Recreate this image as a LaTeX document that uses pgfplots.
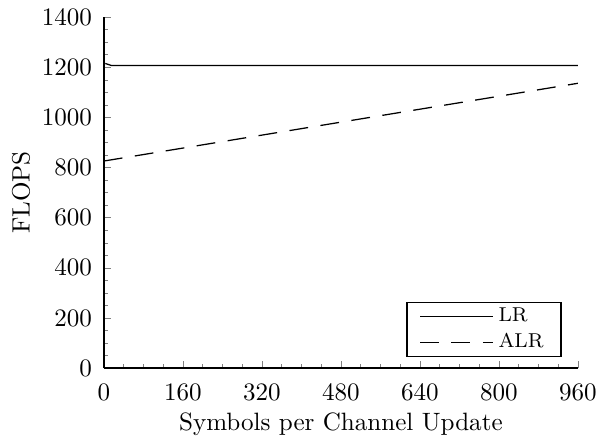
\documentclass[border=0pt]{standalone}
\usepackage{pgfplots}
\pgfplotsset{compat=1.18}
\begin{document}
\begin{tikzpicture}
\begin{axis}[
  at={(0,0)}, anchor=south west,
  scale only axis,
  width=189pt, height=140pt,
  xmin=0, xmax=960, ymin=0, ymax=1400,
  axis x line*=bottom, axis y line*=left,
  axis line style={line width=0.6pt},
  xtick={0,160,...,960}, ytick={0,200,...,1400},
  minor x tick num=3, minor y tick num=3,
  tick align=inside,
  major tick length=3pt, minor tick length=1.8pt,
  /pgf/number format/1000 sep={},
  xticklabel style={yshift=-2.8pt},
  yticklabel style={xshift=-1.2pt},
  xlabel={Symbols per Channel Update}, ylabel={FLOPS},
  every axis x label/.style={at={(axis description cs:0.5,0)}, yshift=-25pt, anchor=base},
  every axis y label/.style={at={(axis description cs:0,0.5)}, xshift=-33pt, rotate=90, anchor=center},
  legend style={at={(0.966,0.031)}, anchor=south east, draw=black, line width=0.6pt, inner xsep=5pt, inner ysep=0pt, row sep=-0.7pt, font=\footnotesize},
  legend cell align=left,
  legend image code/.code={\draw[#1] (0cm,0cm) -- (1.02cm,0cm);},
]
\addplot[black, line width=0.5pt] coordinates {(3,1215) (15,1207) (960,1207)};
\addlegendentry{LR}
\addplot[black, line width=0.5pt, dash pattern=on 7.5pt off 5pt] coordinates {(0,826) (960,1136)};
\addlegendentry{ALR}
\end{axis}
\pgfresetboundingbox
\path (-41.4pt,-27.5pt) rectangle (196.6pt,146.8pt);
\end{tikzpicture}
\end{document}
